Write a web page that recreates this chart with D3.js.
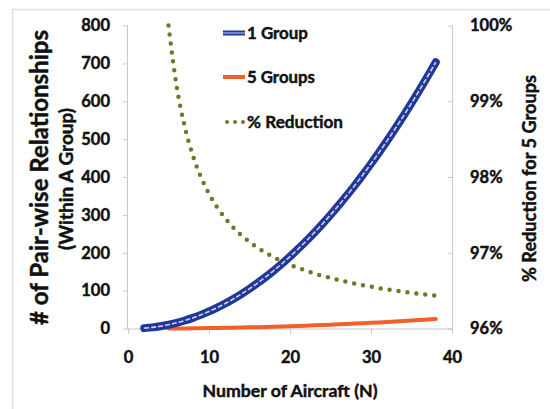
<!DOCTYPE html>
<html>
<head>
<meta charset="utf-8">
<script src="https://cdn.jsdelivr.net/npm/d3@7/dist/d3.min.js"></script>
<style>
html,body{margin:0;padding:0;background:#fff;}
svg{display:block;font-family:Lato,"Open Sans",sans-serif;font-weight:bold;}
svg text{stroke:#111;stroke-width:0.45px;paint-order:stroke;}
</style>
</head>
<body>
<svg id="chart" width="550" height="409"></svg>
<script>
// ---- data ----
const aircraftN = [2,3,4,5,6,7,8,9,10,11,12,13,14,15,16,17,18,19,20,21,22,23,24,25,26,27,28,29,30,31,32,33,34,35,36,37,38];
const oneGroup = [1,3,6,10,15,21,28,36,45,55,66,78,91,105,120,136,153,171,190,210,231,253,276,300,325,351,378,406,435,465,496,528,561,595,630,666,703];
const fiveGroupsN = [5,6,7,8,9,10,11,12,13,14,15,16,17,18,19,20,21,22,23,24,25,26,27,28,29,30,31,32,33,34,35,36,37,38];
const fiveGroups = [0,0.12,0.28,0.48,0.72,1,1.32,1.68,2.08,2.52,3,3.52,4.08,4.68,5.32,6,6.72,7.48,8.28,9.12,10,10.92,11.88,12.88,13.92,15,16.12,17.28,18.48,19.72,21,22.32,23.68,25.08];
const reductionPct = [100,99.2,98.667,98.286,98.0,97.778,97.6,97.455,97.333,97.231,97.143,97.067,97.0,96.941,96.889,96.842,96.8,96.762,96.727,96.696,96.667,96.64,96.615,96.593,96.571,96.552,96.533,96.516,96.5,96.485,96.471,96.457,96.444,96.432];
const xTicks = [0,10,20,30,40];
const yLeftTicks = [0,100,200,300,400,500,600,700,800];
const yRightTicks = [96,97,98,99,100];
const seriesNames = ["1 Group","5 Groups","% Reduction"];

// ---- layout ----
const svg = d3.select("#chart");
const x = d3.scaleLinear().domain([0,40]).range([128,452]);
const yL = d3.scaleLinear().domain([0,800]).range([328.5,25.5]);
const yR = d3.scaleLinear().domain([96,100]).range([328.5,25.5]);

const blue = "#223896", orange = "#f2602a", olive = "#6c7a24", grid = "#c8c8c8";

function fit(sel, target){
  const n = sel.node();
  const fs = parseFloat(sel.attr("font-size"));
  const len = n.getComputedTextLength();
  sel.attr("font-size", (fs*target/len).toFixed(2));
  return sel;
}

// frame
svg.append("path").attr("d","M12.5,420 V9.5 H560").attr("fill","none").attr("stroke","#e0e0e0").attr("stroke-width",1.5);

// axes
const axL = svg.append("g").attr("transform","translate(128,0)")
  .call(d3.axisLeft(yL).tickValues(yLeftTicks).tickSize(5).tickPadding(13));
const axR = svg.append("g").attr("transform","translate(452,0)")
  .call(d3.axisRight(yR).tickValues(yRightTicks).tickSize(0).tickPadding(18).tickFormat(d=>d+"%"));
const axX = svg.append("g").attr("transform","translate(0,328.5)")
  .call(d3.axisBottom(x).tickValues(xTicks).tickSize(5).tickPadding(18));
axR.selectAll(".tick").append("line").attr("x1",-4).attr("x2",0).attr("stroke",grid);
[axL,axR,axX].forEach(a=>{
  a.selectAll(".domain").attr("stroke",grid);
  a.selectAll(".tick line").attr("stroke",grid);
  a.selectAll("text").attr("font-size",16.5).attr("font-weight","bold").attr("fill","#111").attr("font-family","Lato,sans-serif");
});
axL.select(".domain").attr("d","M-0.5,25.5V328.5");
axR.select(".domain").attr("d","M0.5,25.5V328.5");
axX.select(".domain").attr("d","M128,0.5H452");

// lines
const lineOne = d3.line().x((d,i)=>x(aircraftN[i])).y(d=>yL(d)).curve(d3.curveMonotoneX);
const lineFive = d3.line().x((d,i)=>x(fiveGroupsN[i])).y(d=>yL(d)).curve(d3.curveMonotoneX);
const lineRed = d3.line().x((d,i)=>x(fiveGroupsN[i])).y(d=>yR(d)).curve(d3.curveMonotoneX);

svg.append("path").datum(reductionPct).attr("d",lineRed).attr("fill","none")
  .attr("stroke",olive).attr("stroke-width",4.5).attr("stroke-linecap","round").attr("stroke-dasharray","0 9");
svg.append("path").datum(fiveGroups).attr("d",lineFive).attr("fill","none")
  .attr("stroke",orange).attr("stroke-width",4).attr("stroke-linecap","round");
svg.append("path").datum(oneGroup).attr("d",lineOne).attr("fill","none")
  .attr("stroke",blue).attr("stroke-width",8).attr("stroke-linecap","round");
svg.append("path").datum(oneGroup).attr("d",lineOne).attr("fill","none")
  .attr("stroke","#c9d2f0").attr("stroke-width",1.6).attr("stroke-dasharray","5 2");

// legend
const leg = svg.append("g");
const legY = [33,77,122];
leg.append("line").attr("x1",223).attr("x2",245).attr("y1",legY[0]).attr("y2",legY[0]).attr("stroke",blue).attr("stroke-width",5);
leg.append("line").attr("x1",223).attr("x2",245).attr("y1",legY[0]).attr("y2",legY[0]).attr("stroke","#c9d2f0").attr("stroke-width",1);
leg.append("line").attr("x1",223).attr("x2",245).attr("y1",legY[1]).attr("y2",legY[1]).attr("stroke",orange).attr("stroke-width",4);
leg.append("line").attr("x1",227).attr("x2",244).attr("y1",legY[2]).attr("y2",legY[2]).attr("stroke",olive).attr("stroke-width",4).attr("stroke-linecap","round").attr("stroke-dasharray","0 8");
const legLen = [61,68,96];
seriesNames.forEach((s,i)=>{
  const t = leg.append("text").attr("x",247).attr("y",legY[i]).attr("dy","0.36em").attr("font-size",16).attr("fill","#111").text(s);
  fit(t, legLen[i]);
});

// titles
fit(svg.append("text").attr("transform","translate(39,177.5) rotate(-90)").attr("text-anchor","middle").attr("dy","0.36em")
  .attr("font-size",22).attr("fill","#111").text("# of Pair-wise Relationships"), 295);
fit(svg.append("text").attr("transform","translate(66,179) rotate(-90)").attr("text-anchor","middle").attr("dy","0.36em")
  .attr("font-size",16).attr("fill","#111").text("(Within A Group)"), 142);
fit(svg.append("text").attr("transform","translate(529,178.5) rotate(-90)").attr("text-anchor","middle").attr("dy","0.36em")
  .attr("font-size",15).attr("fill","#111").text("% Reduction for 5 Groups"), 207);
fit(svg.append("text").attr("x",290).attr("y",391).attr("text-anchor","middle").attr("dy","0.36em")
  .attr("font-size",16).attr("fill","#111").text("Number of Aircraft (N)"), 175);
</script>
</body>
</html>
